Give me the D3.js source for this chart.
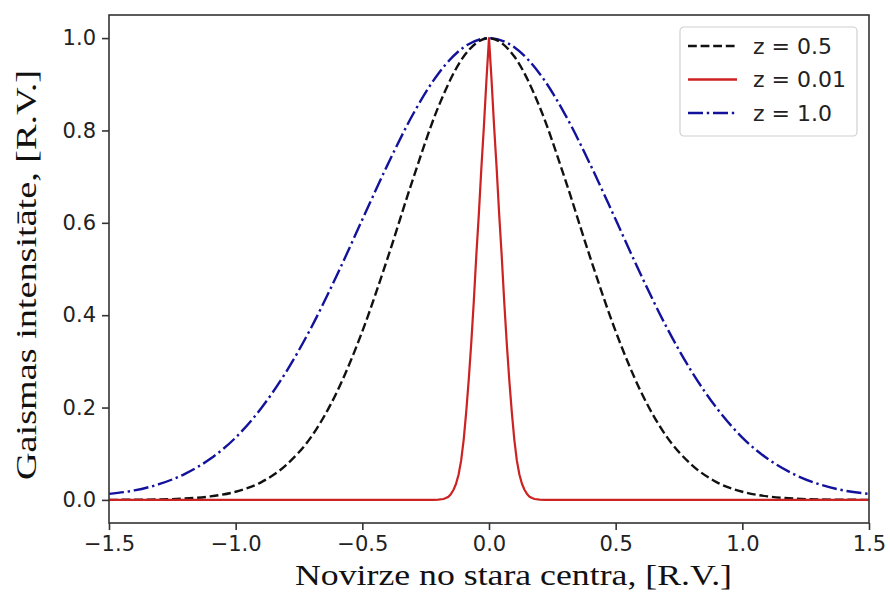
<!DOCTYPE html>
<html>
<head>
<meta charset="utf-8">
<script src="https://cdn.jsdelivr.net/npm/d3@7"></script>
<style>
  body { margin: 0; background: #fff; }
  .tick text { font-family: "DejaVu Sans", sans-serif; font-size: 21px; fill: #222; }
  .axlabel { font-family: "Liberation Serif", "Times New Roman", serif; font-size: 30px; fill: #111; }
  .legend text { font-family: "DejaVu Sans", sans-serif; font-size: 22px; fill: #222; }
</style>
</head>
<body>
<svg id="chart" width="890" height="594"></svg>
<script>
// sample positions along the x axis
const xs = [-1.5, -1.4, -1.3, -1.2, -1.1, -1.0, -0.9, -0.8, -0.7, -0.6, -0.5, -0.4, -0.3, -0.2, -0.1, 0,
  0.1, 0.2, 0.3, 0.4, 0.5, 0.6, 0.7, 0.8, 0.9, 1.0, 1.1, 1.2, 1.3, 1.4, 1.5];

// z = 0.5 (black dashed)
const z05 = [0.0001, 0.0004, 0.0011, 0.003, 0.0076, 0.0177, 0.038, 0.076, 0.138, 0.234, 0.365, 0.524, 0.695, 0.851, 0.96, 1.0,
  0.96, 0.851, 0.695, 0.524, 0.365, 0.234, 0.138, 0.076, 0.038, 0.0177, 0.0076, 0.003, 0.0011, 0.0004, 0.0001];

// z = 1.0 (blue dash-dot)
const z10 = [0.013, 0.0205, 0.0345, 0.0565, 0.089, 0.135, 0.198, 0.278, 0.375, 0.487, 0.607, 0.726, 0.835, 0.923, 0.98, 1.0,
  0.98, 0.923, 0.835, 0.726, 0.607, 0.487, 0.375, 0.278, 0.198, 0.135, 0.089, 0.0565, 0.0345, 0.0205, 0.013];

// z = 0.01 (red, narrow peak) - own x samples
const xsNarrow = [-1.5, -0.22, -0.2, -0.18, -0.17, -0.16, -0.15, -0.14, -0.13, -0.12, -0.11, -0.1, -0.09, -0.08, -0.07,
  -0.06, -0.05, -0.04, -0.03, -0.02, -0.01, 0, 0.01, 0.02, 0.03, 0.04, 0.05, 0.06, 0.07, 0.08, 0.09, 0.1, 0.11, 0.12,
  0.13, 0.14, 0.15, 0.16, 0.17, 0.18, 0.2, 0.22, 1.5];
const z001 = [0, 0, 0.0005, 0.002, 0.004, 0.007, 0.013, 0.022, 0.035, 0.055, 0.085, 0.13, 0.19, 0.26, 0.34,
  0.43, 0.53, 0.62, 0.72, 0.81, 0.91, 1.0, 0.91, 0.81, 0.72, 0.62, 0.53, 0.43, 0.34, 0.26, 0.19, 0.13, 0.085, 0.055,
  0.035, 0.022, 0.013, 0.007, 0.004, 0.002, 0.0005, 0, 0];

const xTicks = [-1.5, -1.0, -0.5, 0.0, 0.5, 1.0, 1.5];
const yTicks = [0.0, 0.2, 0.4, 0.6, 0.8, 1.0];
const legendLabels = ["z = 0.5", "z = 0.01", "z = 1.0"];

const svg = d3.select("#chart");
const margin = { top: 15, right: 21, bottom: 71, left: 109 },
  width = 890 - margin.left - margin.right,
  height = 594 - margin.top - margin.bottom;

const x = d3.scaleLinear().domain([-1.5, 1.5]).range([0, width]);
const y = d3.scaleLinear().domain([-0.05, 1.05]).range([height, 0]);

const g = svg.append("g").attr("transform", "translate(" + margin.left + "," + margin.top + ")");

svg.append("defs").append("clipPath").attr("id", "clip")
  .append("rect").attr("width", width).attr("height", height);

const fmt = (d) => d3.format(".1f")(d).replace("-", "\u2212");

const xAxis = g.append("g")
  .attr("transform", "translate(0," + height + ")")
  .call(d3.axisBottom(x).tickValues(xTicks).tickFormat(fmt).tickSize(7).tickPadding(6));
const yAxis = g.append("g")
  .call(d3.axisLeft(y).tickValues(yTicks).tickFormat(fmt).tickSize(7).tickPadding(6));
[xAxis, yAxis].forEach((a) => {
  a.select(".domain").remove();
  a.selectAll(".tick line").attr("stroke", "#333").attr("stroke-width", 1.6);
});

const line = (xv) => d3.line()
  .x((d, i) => x(xv[i]))
  .y((d) => y(d));

const plot = g.append("g").attr("clip-path", "url(#clip)");

plot.append("path").datum(z10)
  .attr("d", line(xs).curve(d3.curveMonotoneX))
  .attr("fill", "none").attr("stroke", "#12129c").attr("stroke-width", 2.4)
  .attr("stroke-dasharray", "15,3.8,2.4,3.8");

plot.append("path").datum(z05)
  .attr("d", line(xs).curve(d3.curveMonotoneX))
  .attr("fill", "none").attr("stroke", "#111").attr("stroke-width", 2.4)
  .attr("stroke-dasharray", "8.8,3.8");

plot.append("path").datum(z001)
  .attr("d", line(xsNarrow).curve(d3.curveLinear))
  .attr("fill", "none").attr("stroke", "#cc2222").attr("stroke-width", 2.2)
  .attr("stroke-linejoin", "round");

// frame
g.append("rect").attr("width", width).attr("height", height)
  .attr("fill", "none").attr("stroke", "#333").attr("stroke-width", 1.6);

// axis labels (the source picture is a bit stretched, so fix their length)
svg.append("text").attr("class", "axlabel")
  .attr("x", 295).attr("y", 585)
  .attr("textLength", 437).attr("lengthAdjust", "spacingAndGlyphs")
  .text("Novirze no stara centra, [R.V.]");

svg.append("text").attr("class", "axlabel")
  .attr("transform", "translate(36,480) rotate(-90)")
  .attr("textLength", 410).attr("lengthAdjust", "spacingAndGlyphs")
  .text("Gaismas intensitāte, [R.V.]");

// legend
const legend = svg.append("g").attr("class", "legend").attr("transform", "translate(680,27)");
legend.append("rect").attr("width", 177).attr("height", 109).attr("rx", 4)
  .attr("fill", "#fff").attr("fill-opacity", 0.8).attr("stroke", "#d0d0d0").attr("stroke-width", 1.2);

const styles = [
  { color: "#111", dash: "8.8,3.8" },
  { color: "#cc2222", dash: null },
  { color: "#12129c", dash: "15,3.8,2.4,3.8" },
];
legendLabels.forEach((lab, i) => {
  const row = legend.append("g").attr("transform", "translate(0," + (19 + i * 33.5) + ")");
  row.append("line").attr("x1", 8).attr("x2", 57)
    .attr("stroke", styles[i].color).attr("stroke-width", 2.4)
    .attr("stroke-dasharray", styles[i].dash);
  row.append("text").attr("x", 73).attr("dy", "0.35em").text(lab);
});
</script>
</body>
</html>
